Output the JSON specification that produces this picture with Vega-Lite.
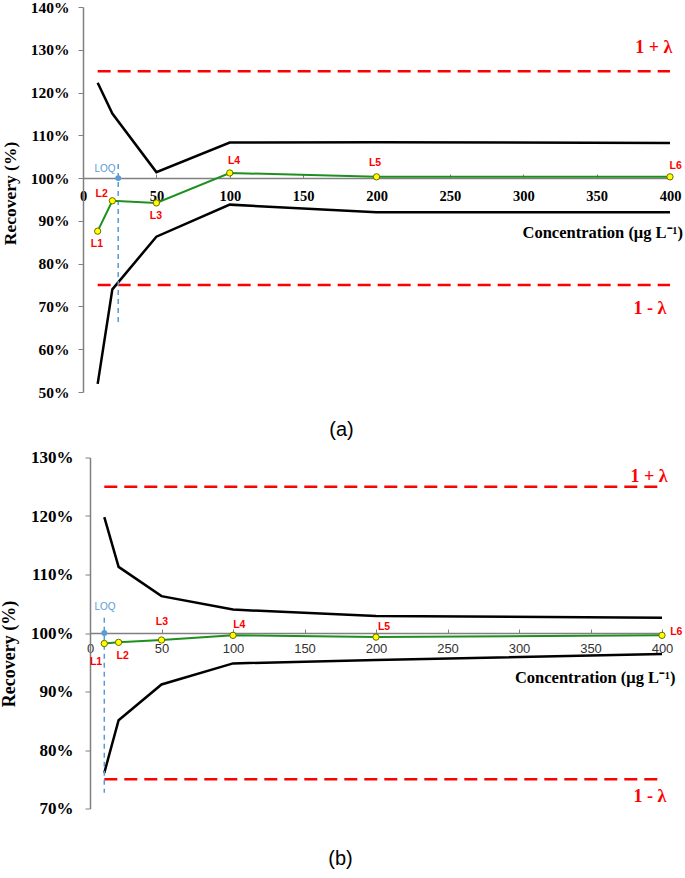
{
  "$schema": "https://vega.github.io/schema/vega-lite/v6.json",
  "padding": {"left": 0, "top": 0, "right": 0, "bottom": 0},
  "background": "white",
  "spacing": 8.5,
  "config": {"view": {"stroke": null}, "axis": {"grid": false}},
  "datasets": {
    "a": [
      {"series": "upper", "conc": 10, "rec": 122.3},
      {"series": "upper", "conc": 20, "rec": 115.1},
      {"series": "upper", "conc": 50, "rec": 101.4},
      {"series": "upper", "conc": 100, "rec": 108.3},
      {"series": "upper", "conc": 200, "rec": 108.4},
      {"series": "upper", "conc": 400, "rec": 108.2},
      {"series": "lower", "conc": 10, "rec": 51.9},
      {"series": "lower", "conc": 20, "rec": 74.0},
      {"series": "lower", "conc": 50, "rec": 86.3},
      {"series": "lower", "conc": 100, "rec": 93.8},
      {"series": "lower", "conc": 200, "rec": 92.0},
      {"series": "lower", "conc": 400, "rec": 92.0},
      {"series": "mean", "conc": 10, "rec": 87.6},
      {"series": "mean", "conc": 20, "rec": 94.7},
      {"series": "mean", "conc": 50, "rec": 94.2},
      {"series": "mean", "conc": 100, "rec": 101.2},
      {"series": "mean", "conc": 200, "rec": 100.3},
      {"series": "mean", "conc": 400, "rec": 100.3},
      {"series": "lim_hi", "conc": 10, "rec": 125},
      {"series": "lim_hi", "conc": 400, "rec": 125},
      {"series": "lim_lo", "conc": 10, "rec": 75},
      {"series": "lim_lo", "conc": 400, "rec": 75},
      {"series": "loq", "conc": 24, "rec": 103.3},
      {"series": "loq", "conc": 24, "rec": 65.4},
      {"series": "loqpt", "conc": 24, "rec": 100}
    ],
    "a_labels": [
      {"kind": "pt", "label": "L1", "conc": 9.5, "rec": 84.6},
      {"kind": "pt", "label": "L2", "conc": 12.7, "rec": 96.2},
      {"kind": "pt", "label": "L3", "conc": 49.7, "rec": 91.1},
      {"kind": "pt", "label": "L4", "conc": 102.9, "rec": 104.0},
      {"kind": "pt", "label": "L5", "conc": 199, "rec": 103.6},
      {"kind": "pt", "label": "L6", "conc": 403.9, "rec": 102.8},
      {"kind": "loq", "label": "LOQ", "conc": 15, "rec": 102.1},
      {"kind": "lam", "label": "1 + λ", "conc": 389, "rec": 130.3},
      {"kind": "lam", "label": "1 - λ", "conc": 386.4, "rec": 69.4},
      {"kind": "xtitle", "label": "Concentration (μg L⁻¹)", "conc": 408.9, "rec": 87.2}
    ],
    "b": [
      {"series": "upper", "conc": 10, "rec": 119.8},
      {"series": "upper", "conc": 20, "rec": 111.3},
      {"series": "upper", "conc": 50, "rec": 106.3},
      {"series": "upper", "conc": 100, "rec": 104.0},
      {"series": "upper", "conc": 200, "rec": 102.9},
      {"series": "upper", "conc": 400, "rec": 102.6},
      {"series": "lower", "conc": 10, "rec": 76.1},
      {"series": "lower", "conc": 20, "rec": 85.1},
      {"series": "lower", "conc": 50, "rec": 91.2},
      {"series": "lower", "conc": 100, "rec": 94.8},
      {"series": "lower", "conc": 200, "rec": 95.4},
      {"series": "lower", "conc": 400, "rec": 96.4},
      {"series": "mean", "conc": 10, "rec": 98.2},
      {"series": "mean", "conc": 20, "rec": 98.4},
      {"series": "mean", "conc": 50, "rec": 98.8},
      {"series": "mean", "conc": 100, "rec": 99.6},
      {"series": "mean", "conc": 200, "rec": 99.3},
      {"series": "mean", "conc": 400, "rec": 99.6},
      {"series": "lim_hi", "conc": 10, "rec": 125},
      {"series": "lim_hi", "conc": 400, "rec": 125},
      {"series": "lim_lo", "conc": 10, "rec": 75},
      {"series": "lim_lo", "conc": 400, "rec": 75},
      {"series": "loq", "conc": 10, "rec": 102.6},
      {"series": "loq", "conc": 10, "rec": 72.7},
      {"series": "loqpt", "conc": 10, "rec": 100}
    ],
    "b_labels": [
      {"kind": "pt", "label": "L1", "conc": 4.2, "rec": 95.1},
      {"kind": "pt", "label": "L2", "conc": 22.9, "rec": 96.0},
      {"kind": "pt", "label": "L3", "conc": 50.3, "rec": 101.8},
      {"kind": "pt", "label": "L4", "conc": 104.4, "rec": 101.3},
      {"kind": "pt", "label": "L5", "conc": 205.6, "rec": 101.0},
      {"kind": "pt", "label": "L6", "conc": 410, "rec": 100.1},
      {"kind": "loq", "label": "LOQ", "conc": 10.5, "rec": 104.4},
      {"kind": "lam", "label": "1 + λ", "conc": 391, "rec": 126.6},
      {"kind": "lam", "label": "1 - λ", "conc": 391.6, "rec": 71.9}
    ]
  },
  "vconcat": [
    {
      "width": 587,
      "height": 385,
      "title": {"text": "(a)", "orient": "bottom", "frame": "group", "anchor": "middle", "dx": -35, "offset": 19, "font": "Liberation Sans", "fontSize": 20, "fontWeight": "normal", "color": "black"},
      "encoding": {
        "x": {"field": "conc", "type": "quantitative",
          "scale": {"domain": [0, 400], "nice": false, "zero": false},
          "axis": {"offset": -214, "values": [0, 50, 100, 150, 200, 250, 300, 350, 400], "domainColor": "#808080", "domainWidth": 1.5, "tickColor": "#808080", "tickSize": -4, "labelBaseline": "middle", "labelPadding": 22, "labelFlush": false, "labelOverlap": false, "labelFont": "Liberation Serif", "labelFontWeight": "bold", "labelFontSize": 14.5, "labelColor": "black", "title": null}},
        "y": {"field": "rec", "type": "quantitative",
          "scale": {"domain": [50, 140], "nice": false, "zero": false},
          "axis": {"values": [50, 60, 70, 80, 90, 100, 110, 120, 130, 140], "labelExpr": "datum.value + '%'", "domainColor": "#808080", "domainWidth": 1.5, "tickColor": "#808080", "tickSize": 5, "labelPadding": 9, "labelFont": "Liberation Serif", "labelFontWeight": "bold", "labelFontSize": 15.5, "labelColor": "black",
            "title": "Recovery (%)", "titleFont": "Liberation Serif", "titleFontSize": 17.5, "titleFontWeight": "bold", "titleColor": "black", "titlePadding": 11, "titleY": 186}}
      },
      "layer": [
        {"data": {"name": "a"}, "transform": [{"filter": "datum.series === 'lim_hi' || datum.series === 'lim_lo'"}],
         "mark": {"type": "line", "color": "#ff0000", "strokeWidth": 2.5, "strokeDash": [13, 7]},
         "encoding": {"detail": {"field": "series"}}},
        {"data": {"name": "a"}, "transform": [{"filter": "datum.series === 'upper' || datum.series === 'lower'"}],
         "mark": {"type": "line", "color": "black", "strokeWidth": 2.5},
         "encoding": {"detail": {"field": "series"}}},
        {"data": {"name": "a"}, "transform": [{"filter": "datum.series === 'loq'"}],
         "mark": {"type": "line", "color": "#5b9bd5", "strokeWidth": 1.5, "strokeDash": [5, 4]},
         "encoding": {}},
        {"data": {"name": "a"}, "transform": [{"filter": "datum.series === 'loqpt'"}],
         "mark": {"type": "point", "filled": true, "color": "#5b9bd5", "size": 35, "opacity": 1}},
        {"data": {"name": "a"}, "transform": [{"filter": "datum.series === 'mean'"}],
         "mark": {"type": "line", "color": "#1f8f1f", "strokeWidth": 2},
         "encoding": {}},
        {"data": {"name": "a"}, "transform": [{"filter": "datum.series === 'mean'"}],
         "mark": {"type": "point", "filled": true, "fill": "#ffff00", "stroke": "#6b6b00", "strokeWidth": 1, "size": 40, "opacity": 1}},
        {"data": {"name": "a_labels"}, "transform": [{"filter": "datum.kind === 'pt'"}],
         "mark": {"type": "text", "font": "Liberation Sans", "fontWeight": "bold", "fontSize": 10.5, "color": "#ff0000", "baseline": "middle", "align": "center"},
         "encoding": {"text": {"field": "label"}}},
        {"data": {"name": "a_labels"}, "transform": [{"filter": "datum.kind === 'loq'"}],
         "mark": {"type": "text", "font": "Liberation Sans", "fontSize": 10, "color": "#5b9bd5", "baseline": "middle", "align": "center"},
         "encoding": {"text": {"field": "label"}}},
        {"data": {"name": "a_labels"}, "transform": [{"filter": "datum.kind === 'lam'"}],
         "mark": {"type": "text", "font": "Liberation Serif", "fontWeight": "bold", "fontSize": 18, "color": "#ff0000", "baseline": "middle", "align": "center"},
         "encoding": {"text": {"field": "label"}}},
        {"data": {"name": "a_labels"}, "transform": [{"filter": "datum.kind === 'xtitle'"}],
         "mark": {"type": "text", "font": "Liberation Serif", "fontWeight": "bold", "fontSize": 16.5, "color": "black", "baseline": "middle", "align": "right"},
         "encoding": {"text": {"field": "label"}}}
      ]
    },
    {
      "width": 579,
      "height": 351,
      "title": {"text": "(b)", "orient": "bottom", "frame": "group", "anchor": "middle", "dx": -32, "offset": 32, "font": "Liberation Sans", "fontSize": 20, "fontWeight": "normal", "color": "black"},
      "encoding": {
        "x": {"field": "conc", "type": "quantitative",
          "scale": {"domain": [0, 400], "range": [7, 579], "nice": false, "zero": false},
          "axis": {"offset": -175.5, "values": [0, 50, 100, 150, 200, 250, 300, 350, 400], "domainColor": "#808080", "domainWidth": 1.5, "tickColor": "#808080", "tickSize": -4, "labelBaseline": "middle", "labelPadding": 19, "labelFlush": false, "labelOverlap": false, "labelFont": "Liberation Sans", "labelFontWeight": "normal", "labelFontSize": 13, "labelColor": "#333333",
            "title": "Concentration (μg L⁻¹)", "titleFont": "Liberation Serif", "titleFontSize": 16.5, "titleFontWeight": "bold", "titleColor": "black", "titleAnchor": "end", "titleAlign": "right", "titleBaseline": "middle", "titleX": 592, "titleY": 44}},
        "y": {"field": "rec", "type": "quantitative",
          "scale": {"domain": [70, 130], "nice": false, "zero": false},
          "axis": {"offset": -7, "values": [70, 80, 90, 100, 110, 120, 130], "labelExpr": "datum.value + '%'", "domainColor": "#808080", "domainWidth": 1.5, "tickColor": "#808080", "tickSize": 5, "labelPadding": 12, "labelFont": "Liberation Serif", "labelFontWeight": "bold", "labelFontSize": 17, "labelColor": "black",
            "title": "Recovery (%)", "titleFont": "Liberation Serif", "titleFontSize": 18, "titleFontWeight": "bold", "titleColor": "black", "titlePadding": 12, "titleY": 196}}
      },
      "layer": [
        {"data": {"name": "b"}, "transform": [{"filter": "datum.series === 'lim_hi' || datum.series === 'lim_lo'"}],
         "mark": {"type": "line", "color": "#ff0000", "strokeWidth": 2.5, "strokeDash": [13, 7]},
         "encoding": {"detail": {"field": "series"}}},
        {"data": {"name": "b"}, "transform": [{"filter": "datum.series === 'upper' || datum.series === 'lower'"}],
         "mark": {"type": "line", "color": "black", "strokeWidth": 2.5},
         "encoding": {"detail": {"field": "series"}}},
        {"data": {"name": "b"}, "transform": [{"filter": "datum.series === 'loq'"}],
         "mark": {"type": "line", "color": "#5b9bd5", "strokeWidth": 1.5, "strokeDash": [5, 4]},
         "encoding": {}},
        {"data": {"name": "b"}, "transform": [{"filter": "datum.series === 'loqpt'"}],
         "mark": {"type": "point", "filled": true, "color": "#5b9bd5", "size": 35, "opacity": 1}},
        {"data": {"name": "b"}, "transform": [{"filter": "datum.series === 'mean'"}],
         "mark": {"type": "line", "color": "#1f8f1f", "strokeWidth": 2},
         "encoding": {}},
        {"data": {"name": "b"}, "transform": [{"filter": "datum.series === 'mean'"}],
         "mark": {"type": "point", "filled": true, "fill": "#ffff00", "stroke": "#6b6b00", "strokeWidth": 1, "size": 40, "opacity": 1}},
        {"data": {"name": "b_labels"}, "transform": [{"filter": "datum.kind === 'pt'"}],
         "mark": {"type": "text", "font": "Liberation Sans", "fontWeight": "bold", "fontSize": 10.5, "color": "#ff0000", "baseline": "middle", "align": "center"},
         "encoding": {"text": {"field": "label"}}},
        {"data": {"name": "b_labels"}, "transform": [{"filter": "datum.kind === 'loq'"}],
         "mark": {"type": "text", "font": "Liberation Sans", "fontSize": 10, "color": "#5b9bd5", "baseline": "middle", "align": "center"},
         "encoding": {"text": {"field": "label"}}},
        {"data": {"name": "b_labels"}, "transform": [{"filter": "datum.kind === 'lam'"}],
         "mark": {"type": "text", "font": "Liberation Serif", "fontWeight": "bold", "fontSize": 18, "color": "#ff0000", "baseline": "middle", "align": "center"},
         "encoding": {"text": {"field": "label"}}}
      ]
    }
  ]
}
